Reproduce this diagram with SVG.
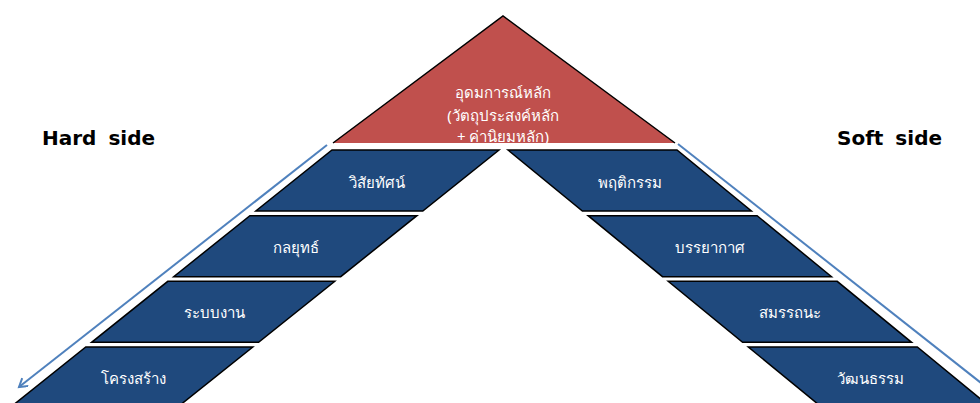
<svg xmlns="http://www.w3.org/2000/svg" width="980" height="403" viewBox="0 0 980 403">
<style>
.band{fill:#1F497D;stroke:#000;stroke-width:1.5;stroke-linejoin:miter}
.lbl{font-family:"Noto Sans","DejaVu Sans",sans-serif;font-size:15px;fill:#fff;text-anchor:middle;dominant-baseline:central}
.side{font-family:"DejaVu Sans","Liberation Sans",sans-serif;font-size:20px;font-weight:bold;fill:#000;word-spacing:5px}
.conn{stroke:#4F81BD;stroke-width:2;fill:none}
</style>
<defs>
<marker id="arr" markerWidth="12" markerHeight="12" refX="9" refY="5" orient="auto" markerUnits="userSpaceOnUse">
<path d="M1,0 L9,5 L1,10" fill="none" stroke="#4F81BD" stroke-width="2"/>
</marker>
</defs>
<rect width="980" height="403" fill="#fff"/>
<g id="connectors">
<line class="conn" x1="327" y1="145" x2="19" y2="387" marker-end="url(#arr)"/>
<line class="conn" x1="678" y1="144" x2="990" y2="390"/>
</g>
<g id="top">
<polygon points="503,16 675,143 333,143" fill="#C0504D"/>
<polyline points="333,143 503,16 675,143" fill="none" stroke="#000" stroke-width="1.5"/>
<text class="lbl" x="503" y="92">อุดมการณ์หลัก</text>
<text class="lbl" x="503" y="115">(วัตถุประสงค์หลัก</text>
<text class="lbl" x="503" y="136">+ ค่านิยมหลัก)</text>
</g>
<g id="hard-side-label"><text class="side" x="42" y="145">Hard side</text></g>
<g id="soft-side-label"><text class="side" x="837" y="145">Soft side</text></g>
<g id="left-1">
<polygon class="band" points="332,150 499,150 422.8,211 255.8,211"/>
<text class="lbl" x="377" y="182">วิสัยทัศน์</text>
</g>
<g id="left-2">
<polygon class="band" points="249.9,215.7 416.9,215.7 340.7,276.7 173.7,276.7"/>
<text class="lbl" x="296" y="247">กลยุทธ์</text>
</g>
<g id="left-3">
<polygon class="band" points="167.8,281.3 334.8,281.3 258.6,342.3 91.6,342.3"/>
<text class="lbl" x="214" y="312">ระบบงาน</text>
</g>
<g id="left-4">
<polygon class="band" points="85.8,347 252.8,347 176.5,408 9.5,408"/>
<text class="lbl" x="133" y="378">โครงสร้าง</text>
</g>
<g id="right-1">
<polygon class="band" points="508,150 677,150 751.4,211 582.4,211"/>
<text class="lbl" x="630" y="182">พฤติกรรม</text>
</g>
<g id="right-2">
<polygon class="band" points="588.1,215.7 757.1,215.7 831.5,276.7 662.5,276.7"/>
<text class="lbl" x="710" y="247">บรรยากาศ</text>
</g>
<g id="right-3">
<polygon class="band" points="668.2,281.3 837.2,281.3 911.6,342.3 742.6,342.3"/>
<text class="lbl" x="790" y="312">สมรรถนะ</text>
</g>
<g id="right-4">
<polygon class="band" points="748.3,347 917.3,347 991.7,408 822.7,408"/>
<text class="lbl" x="870" y="378">วัฒนธรรม</text>
</g>
</svg>
